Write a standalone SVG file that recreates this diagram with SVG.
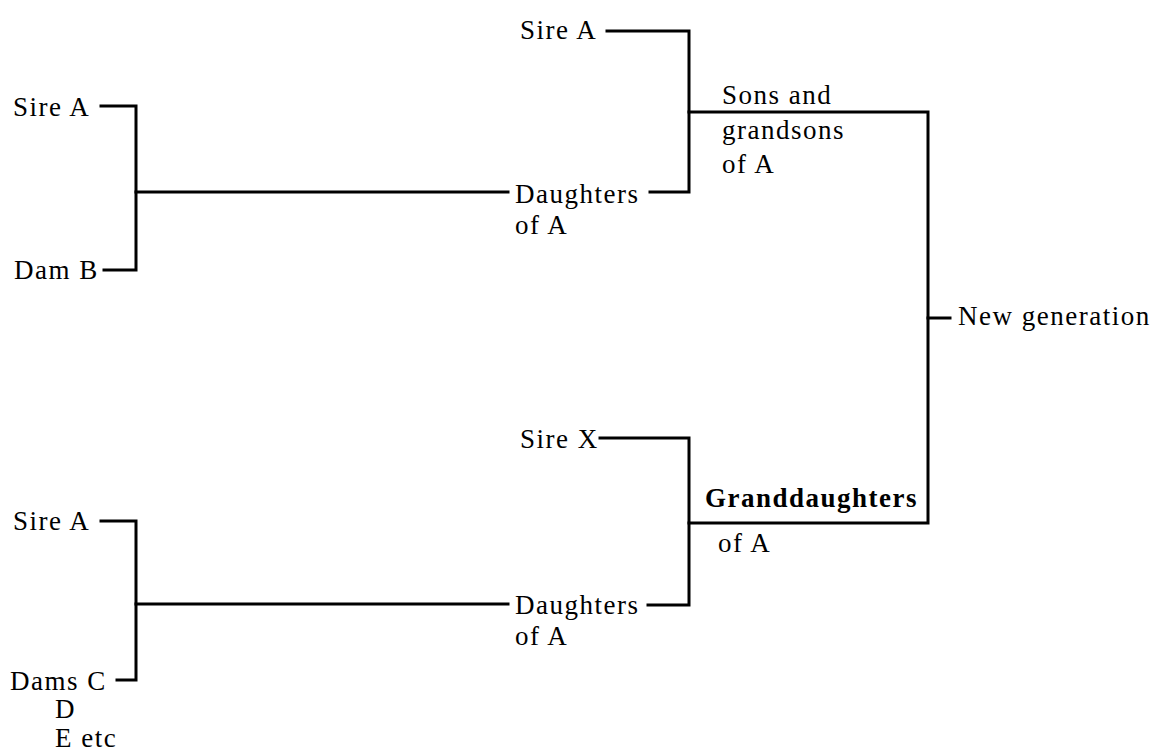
<svg xmlns="http://www.w3.org/2000/svg" width="1153" height="754" viewBox="0 0 1153 754">
<style>
text{font-family:"Liberation Serif","Times New Roman",serif;font-size:27px;letter-spacing:1.5px;fill:#000}
.b{font-weight:bold}
.c{fill:none;stroke:#000;stroke-width:3;stroke-linecap:square;stroke-linejoin:miter}
</style>
<rect width="1153" height="754" fill="#fff"/>
<g id="connectors">
<path class="c" d="M101,106 H136 V270 H104"/>
<path class="c" d="M136,192 H508"/>
<path class="c" d="M607,31 H689 V192 H650"/>
<path class="c" d="M689,112 H928 V523 H689"/>
<path class="c" d="M928,318 H950"/>
<path class="c" d="M600,438 H689 V605 H648"/>
<path class="c" d="M101,521 H136 V680 H117"/>
<path class="c" d="M136,604 H508"/>
</g>
<g id="sireA1"><text x="13" y="116">Sire A</text></g>
<g id="damB"><text x="14" y="279">Dam B</text></g>
<g id="daughters1"><text x="515" y="203">Daughters</text><text x="515" y="234">of A</text></g>
<g id="sireA2"><text x="520" y="39">Sire A</text></g>
<g id="sons"><text x="722" y="104">Sons and</text><text x="722" y="139">grandsons</text><text x="722" y="173">of A</text></g>
<g id="newgen"><text x="958" y="325">New generation</text></g>
<g id="sireX"><text x="520" y="448">Sire X</text></g>
<g id="granddaughters"><text class="b" x="705" y="507">Granddaughters</text><text x="718" y="552">of A</text></g>
<g id="daughters2"><text x="515" y="614">Daughters</text><text x="515" y="645">of A</text></g>
<g id="sireA3"><text x="13" y="530">Sire A</text></g>
<g id="dams"><text x="10" y="690">Dams C</text><text x="55" y="718">D</text><text x="55" y="747">E etc</text></g>
</svg>
